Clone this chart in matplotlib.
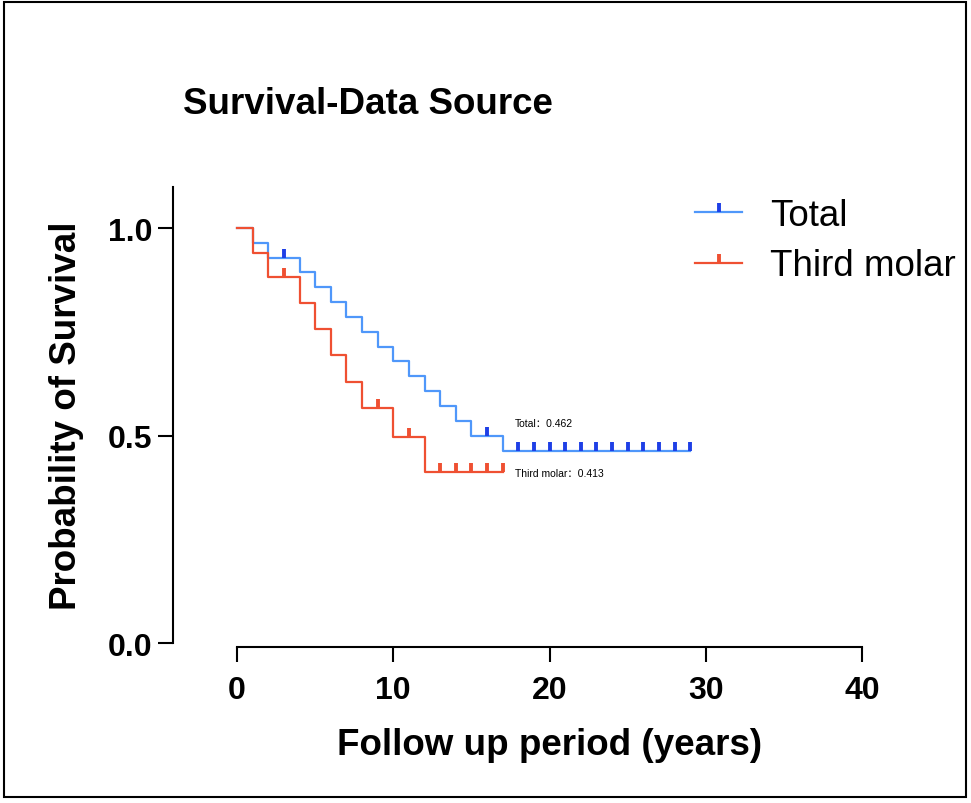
import numpy as np
import matplotlib
matplotlib.use("Agg")
import matplotlib.pyplot as plt
from matplotlib.lines import Line2D
from matplotlib.patches import Rectangle

# ---- data ----
total_times = [0, 1, 2, 4, 5, 6, 7, 8, 9, 10, 11, 12, 13, 14, 15, 17]
total_surv = [1.0, 0.964, 0.929, 0.893, 0.857, 0.821, 0.786, 0.750, 0.714,
              0.679, 0.643, 0.607, 0.571, 0.536, 0.500, 0.462]
total_end = 29
total_censor = [3, 16, 18, 19, 20, 21, 22, 23, 24, 25, 26, 27, 28, 29]

molar_times = [0, 1, 2, 4, 5, 6, 7, 8, 10, 12]
molar_surv = [1.0, 0.941, 0.882, 0.819, 0.756, 0.693, 0.630, 0.567, 0.496, 0.413]
molar_end = 17
molar_censor = [3, 9, 11, 13, 14, 15, 16, 17]

x_ticks = [0, 10, 20, 30, 40]
y_ticks = [0.0, 0.5, 1.0]
y_ticklabels = ["0.0", "0.5", "1.0"]

BLUE = "#4F97FA"
BLUE_DARK = "#1E3FE6"
RED = "#EF5032"

plt.rcParams["font.family"] = ["Liberation Sans", "DejaVu Sans"]

W, H = 971, 804
fig = plt.figure(figsize=(W / 100, H / 100), dpi=100)
fig.patch.set_facecolor("white")

def px(x0, y0, x1, y1):
    return [x0 / W, 1 - y1 / H, (x1 - x0) / W, (y1 - y0) / H]

ax = fig.add_axes(px(173, 188, 862, 648))
ax.set_xlim(-4.1, 40)
ax.set_ylim(-0.0096, 1.099)

def surv_at(times, surv, t):
    i = np.searchsorted(times, t, side="right") - 1
    return surv[i]

for times, surv, end, cens, lc, mc in [
    (total_times, total_surv, total_end, total_censor, BLUE, BLUE_DARK),
    (molar_times, molar_surv, molar_end, molar_censor, RED, RED),
]:
    xs = list(times) + [end]
    ys = list(surv) + [surv[-1]]
    ax.step(xs, ys, where="post", color=lc, lw=1.6, zorder=3)
    cy = [surv_at(times, surv, t) for t in cens]
    ax.plot(cens, cy, linestyle="none", marker=2, markersize=6.5,
            markeredgewidth=2.8, color=mc, zorder=4)

# spines
for s in ["top", "right"]:
    ax.spines[s].set_visible(False)
ax.spines["left"].set_linewidth(1.5)
ax.spines["bottom"].set_linewidth(1.5)
ax.spines["left"].set_bounds(0, 1.099)
ax.spines["bottom"].set_bounds(0, 40)

ax.set_xticks(x_ticks)
ax.set_xticklabels([str(v) for v in x_ticks])
ax.set_yticks(y_ticks)
ax.set_yticklabels(y_ticklabels)
ax.tick_params(axis="both", length=11, width=1.5, labelsize=23)
ax.tick_params(axis="y", pad=4)
ax.tick_params(axis="x", pad=9)
for lab in ax.get_xticklabels() + ax.get_yticklabels():
    lab.set_fontweight("bold")

# annotations
ax.text(17.8, 0.530, "Total：0.462", fontsize=7.5, ha="left", va="center",
        family=["Liberation Sans", "Noto Sans CJK SC"])
ax.text(17.8, 0.410, "Third molar：0.413", fontsize=7.5, ha="left", va="center",
        family=["Liberation Sans", "Noto Sans CJK SC"])

# labels and title
fig.text(183 / W, 1 - 104 / H, "Survival-Data Source", fontsize=26.5,
         fontweight="bold", ha="left", va="center")
fig.text(550 / W, 1 - 746 / H, "Follow up period (years)", fontsize=26.5,
         fontweight="bold", ha="center", va="center")
fig.text(67 / W, 1 - 416 / H, "Probability of Survival", fontsize=26.5,
         fontweight="bold", ha="center", va="center", rotation=90)

# legend
handles = [
    Line2D([], [], color=BLUE, lw=1.6, marker=2, markersize=6.5,
           markeredgewidth=2.8, markeredgecolor=BLUE_DARK),
    Line2D([], [], color=RED, lw=1.6, marker=2, markersize=6.5,
           markeredgewidth=2.8, markeredgecolor=RED),
]
leg = fig.legend(handles, ["Total", "Third molar"], loc="upper left",
                 bbox_to_anchor=(695 / W, 1 - 199 / H), frameon=False,
                 fontsize=26.5, numpoints=1, handlelength=1.28,
                 handletextpad=0.76, borderpad=0, borderaxespad=0,
                 labelspacing=0.42)

# outer border
fig.patches.append(Rectangle((4 / W, 1 - 798 / H), 962 / W, 795 / H,
                             transform=fig.transFigure, fill=False,
                             edgecolor="black", lw=1.5))

fig.savefig("out.png", dpi=100)
